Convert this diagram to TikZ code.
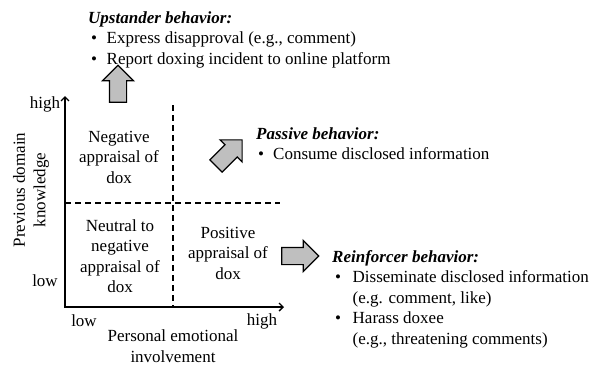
\documentclass[tikz,border=0pt]{standalone}
\usepackage{fontspec}
\setmainfont{Liberation Serif}
\usetikzlibrary{shapes.arrows,arrows.meta}
\begin{document}
\begin{tikzpicture}[x=1pt,y=-1pt,
  every node/.style={font=\rmfamily\fontsize{17}{20.5}\selectfont, inner sep=0pt},
  axis/.style={line width=1.4pt, {Straight Barb[length=4pt,width=8pt]}-{Straight Barb[length=4pt,width=8pt]}, line join=miter},
  divider/.style={dash pattern=on 6pt off 4pt, line width=1.1pt},
  bigarrow/.style={single arrow, draw, fill=gray!50, line width=1.2pt, minimum height=37pt, single arrow head extend=7pt, inner xsep=0pt, inner ysep=8pt},
  quad/.style={align=center},
  lbl/.style={align=center},
  beh/.style={anchor=base west, align=left}
]
\useasboundingbox (0,0) rectangle (591,364);

% axes
\coordinate (ytop) at (65,96);
\coordinate (O) at (65,307);
\coordinate (xend) at (284,307);
\draw[axis] (ytop) -- (O) -- (xend);

% dividers
\coordinate (vtop) at (173,105);
\coordinate (vbot) at (173,307);
\coordinate (hl) at (65,203);
\coordinate (hr) at (280,203);
\draw[divider] (vtop) -- (vbot);
\draw[divider] (hl) -- (hr);

% axis labels
\node[lbl] (yhigh) at (45,104) {high};
\node[lbl] (ylow) at (45,281) {low};
\node[lbl] (xlow) at (84,321) {low};
\node[lbl] (xhigh) at (262,321) {high};
\node[lbl] (xlab) at (173,346) {Personal emotional\\involvement};
\node[lbl, rotate=90] (ylab) at (31,190) {Previous domain\\knowledge};

% quadrants
\node[quad] (q1) at (119,157) {Negative\\appraisal of\\dox};
\node[quad] (q2) at (120,256) {Neutral to\\negative\\appraisal of\\dox};
\node[quad] (q3) at (228,253) {Positive\\appraisal of\\dox};

% arrows
\node[bigarrow, rotate=90] (aup) at (118,88) {};
\node[bigarrow, rotate=45] (apas) at (226,156) {};
\node[bigarrow] (arei) at (296,256) {};

% behaviours
\node[beh] (ups) at (88,23) {\begin{tabular}[t]{@{}p{18.5pt}@{}l@{}}
\multicolumn{2}{@{}l@{}}{\textbf{\textit{Upstander behavior:}}}\\
\hspace{3pt}\textbullet & Express disapproval (e.g., comment)\\
\hspace{3pt}\textbullet & Report doxing incident to online platform
\end{tabular}};

\node[beh] (pas) at (256,139) {\begin{tabular}[t]{@{}p{17pt}@{}l@{}}
\multicolumn{2}{@{}l@{}}{\textbf{\textit{Passive behavior:}}}\\
\hspace{2pt}\textbullet & Consume disclosed information
\end{tabular}};

\node[beh] (rei) at (332,262) {\begin{tabular}[t]{@{}p{20.5pt}@{}l@{}}
\multicolumn{2}{@{}l@{}}{\textbf{\textit{Reinforcer behavior:}}}\\
\hspace{3pt}\textbullet & Disseminate disclosed information\\
 & (e.g. comment, like)\\
\hspace{3pt}\textbullet & Harass doxee\\
 & (e.g., threatening comments)
\end{tabular}};
\end{tikzpicture}
\end{document}
